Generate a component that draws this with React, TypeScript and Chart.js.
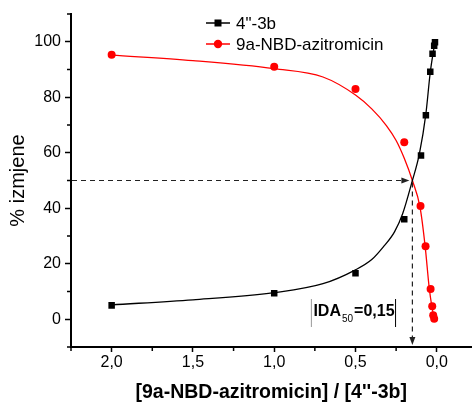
import React, { useEffect, useRef } from 'react';
import { Chart, registerables } from 'chart.js';

Chart.register(...registerables);

// measured points
const ratio4_3b = [2.0, 1.0, 0.5, 0.2, 0.097, 0.067, 0.04, 0.026, 0.016, 0.011];
const exchange4_3b = [5, 9.4, 16.6, 36, 59, 73.5, 89.2, 95.7, 98.6, 99.8];

const ratioNBD = [2.0, 1.0, 0.5, 0.2, 0.1, 0.069, 0.038, 0.028, 0.022, 0.016];
const exchangeNBD = [95.3, 91, 83, 63.8, 40.8, 26.3, 10.9, 4.7, 1.4, 0.2];

// fitted curves
const fitX4_3b = [2.0, 1.5, 1.0, 0.7, 0.5, 0.4, 0.33, 0.26, 0.21, 0.15, 0.107, 0.067, 0.04, 0.011];
const fitY4_3b = [5.2, 7.0, 9.6, 12.8, 17.8, 21.5, 26, 31.5, 38, 50, 59.6, 74, 89, 100];

const fitXNBD = [2.0, 1.5, 1.0, 0.7, 0.5, 0.4, 0.31, 0.25, 0.2, 0.15, 0.103, 0.071, 0.047, 0.03, 0.016];
const fitYNBD = [95.2, 93.2, 90.3, 87.3, 80.8, 75.8, 69.8, 64.4, 58, 50, 40.4, 26, 11.6, 4.5, 0.3];

const X_MAJOR = [2.0, 1.5, 1.0, 0.5, 0.0];
const X_MINOR = [2.25, 1.75, 1.25, 0.75, 0.25];
const Y_MAJOR = [0, 20, 40, 60, 80, 100];
const Y_MINOR = [-10, 10, 30, 50, 70, 90, 110];

const IDA50 = 0.15;
const HALF = 50;
const IDA_LABEL = 'IDA';
const IDA_SUB = '50';
const IDA_VALUE = '=0,15';

const LEGEND_LABELS = ['4"-3b', '9a-NBD-azitromicin'];
const X_TITLE = "[9a-NBD-azitromicin] / [4''-3b]";
const Y_TITLE = '% izmjene';

const FONT = '"Liberation Sans", Arial, sans-serif';

const zip = (xs: number[], ys: number[]) => xs.map((x, i) => ({ x, y: ys[i] }));

const extrasPlugin = {
  id: 'extras',
  afterDatasetsDraw(chart: any) {
    const { ctx, chartArea, scales } = chart;
    const xs = scales.x;
    const ys = scales.y;
    ctx.save();
    // minor ticks
    ctx.strokeStyle = '#000';
    ctx.lineWidth = 1.5;
    ctx.setLineDash([]);
    X_MINOR.forEach((v) => {
      const p = xs.getPixelForValue(v);
      ctx.beginPath();
      ctx.moveTo(p, chartArea.bottom);
      ctx.lineTo(p, chartArea.bottom + 4);
      ctx.stroke();
    });
    Y_MINOR.forEach((v) => {
      const p = ys.getPixelForValue(v);
      ctx.beginPath();
      ctx.moveTo(chartArea.left - 4, p);
      ctx.lineTo(chartArea.left, p);
      ctx.stroke();
    });

    // dashed guide lines
    const px = xs.getPixelForValue(IDA50);
    const py = ys.getPixelForValue(HALF);
    ctx.strokeStyle = '#222';
    ctx.fillStyle = '#222';
    ctx.lineWidth = 1.2;
    ctx.setLineDash([5, 4]);
    ctx.beginPath();
    ctx.moveTo(chartArea.left + 1, py);
    ctx.lineTo(px - 10, py);
    ctx.stroke();
    ctx.beginPath();
    ctx.moveTo(px, py + 2);
    ctx.lineTo(px, chartArea.bottom - 9);
    ctx.stroke();
    ctx.setLineDash([]);
    ctx.beginPath();
    ctx.moveTo(px - 3, py);
    ctx.lineTo(px - 11, py - 3);
    ctx.lineTo(px - 11, py + 3);
    ctx.closePath();
    ctx.fill();
    ctx.beginPath();
    ctx.moveTo(px, chartArea.bottom - 2);
    ctx.lineTo(px - 3, chartArea.bottom - 10);
    ctx.lineTo(px + 3, chartArea.bottom - 10);
    ctx.closePath();
    ctx.fill();

    // IDA50 label
    const tx = px - 101;
    const ty = chartArea.bottom - 31;
    ctx.fillStyle = '#000';
    ctx.textBaseline = 'alphabetic';
    ctx.textAlign = 'left';
    ctx.font = `bold 16px ${FONT}`;
    let cx = tx + 2;
    ctx.fillText(IDA_LABEL, cx, ty);
    cx += ctx.measureText(IDA_LABEL).width;
    ctx.font = `10px ${FONT}`;
    ctx.fillText(IDA_SUB, cx + 1, ty + 6);
    cx += ctx.measureText(IDA_SUB).width + 2;
    ctx.font = `bold 16px ${FONT}`;
    ctx.fillText(IDA_VALUE, cx, ty);
    cx += ctx.measureText(IDA_VALUE).width + 1;
    ctx.lineWidth = 1;
    ctx.strokeStyle = '#999';
    ctx.beginPath();
    ctx.moveTo(tx, ty - 17);
    ctx.lineTo(tx, ty + 11);
    ctx.stroke();
    ctx.strokeStyle = '#000';
    ctx.beginPath();
    ctx.moveTo(cx, ty - 17);
    ctx.lineTo(cx, ty + 11);
    ctx.stroke();

    // legend
    const items = [
      { ds: chart.data.datasets[0], shape: 'rect' },
      { ds: chart.data.datasets[1], shape: 'circle' },
    ];
    items.forEach((it, i) => {
      const ly = chartArea.top + 9 + i * 21;
      const lx = chartArea.left + 135;
      const color = it.ds.borderColor;
      ctx.strokeStyle = color;
      ctx.fillStyle = color;
      ctx.lineWidth = 1.5;
      ctx.beginPath();
      ctx.moveTo(lx, ly);
      ctx.lineTo(lx + 24, ly);
      ctx.stroke();
      if (it.shape === 'rect') {
        ctx.fillRect(lx + 12 - 3.5, ly - 3.5, 7, 7);
      } else {
        ctx.beginPath();
        ctx.arc(lx + 12, ly, 4.2, 0, Math.PI * 2);
        ctx.fill();
      }
      ctx.fillStyle = '#000';
      ctx.font = `17px ${FONT}`;
      ctx.textBaseline = 'middle';
      ctx.fillText(it.ds.label, lx + 30, ly + 1);
    });
    ctx.restore();
  },
};

export default function App() {
  const ref = useRef<HTMLCanvasElement | null>(null);
  useEffect(() => {
    if (!ref.current) return;
    const chart = new Chart(ref.current, {
      type: 'scatter',
      data: {
        datasets: [
          {
            label: LEGEND_LABELS[0],
            data: zip(ratio4_3b, exchange4_3b),
            borderColor: '#000',
            backgroundColor: '#000',
            pointStyle: 'rect',
            pointRadius: 4.6,
            pointBorderWidth: 0,
            showLine: false,
          },
          {
            label: LEGEND_LABELS[1],
            data: zip(ratioNBD, exchangeNBD),
            borderColor: '#ff0000',
            backgroundColor: '#ff0000',
            pointStyle: 'circle',
            pointRadius: 4,
            pointBorderWidth: 0,
            showLine: false,
          },
          {
            label: 'fit 4"-3b',
            data: zip(fitX4_3b, fitY4_3b),
            borderColor: '#000',
            borderWidth: 1.3,
            pointRadius: 0,
            showLine: true,
            cubicInterpolationMode: 'monotone',
          },
          {
            label: 'fit NBD',
            data: zip(fitXNBD, fitYNBD),
            borderColor: '#ff0000',
            borderWidth: 1.3,
            pointRadius: 0,
            showLine: true,
            cubicInterpolationMode: 'monotone',
          },
        ],
      },
      options: {
        responsive: false,
        animation: false,
        layout: { padding: { top: 14, right: 0, left: 0, bottom: 0 } },
        plugins: { legend: { display: false }, tooltip: { enabled: false } },
        scales: {
          x: {
            type: 'linear',
            reverse: true,
            min: -0.213,
            max: 2.25,
            afterBuildTicks: (s: any) => {
              s.ticks = X_MAJOR.map((v) => ({ value: v }));
            },
            afterFit: (s: any) => {
              s.height = 58;
            },
            border: { color: '#000', width: 2 },
            grid: { drawOnChartArea: false, drawTicks: true, tickLength: 5, tickColor: '#000', tickWidth: 1.5 },
            ticks: {
              color: '#000',
              padding: 1,
              font: { family: FONT, size: 16 },
              maxRotation: 0,
              callback: (v: any) => Number(v).toFixed(1).replace('.', ','),
            },
            title: {
              display: true,
              text: X_TITLE,
              color: '#000',
              font: { family: FONT, size: 19.5, weight: 'bold', lineHeight: 1 },
              padding: { top: 0, bottom: 3 },
            },
          },
          y: {
            type: 'linear',
            min: -10,
            max: 110,
            afterBuildTicks: (s: any) => {
              s.ticks = Y_MAJOR.map((v) => ({ value: v }));
            },
            afterFit: (s: any) => {
              s.width = 71;
            },
            border: { color: '#000', width: 2 },
            grid: { drawOnChartArea: false, drawTicks: true, tickLength: 6, tickColor: '#000', tickWidth: 1.5 },
            ticks: {
              color: '#000',
              padding: 4,
              font: { family: FONT, size: 16 },
              callback: (v: any) => String(v),
            },
            title: {
              display: true,
              text: Y_TITLE,
              color: '#000',
              font: { family: FONT, size: 20, lineHeight: 1 },
              padding: { top: 8, bottom: 0 },
            },
          },
        },
      },
      plugins: [extrasPlugin],
    } as any);
    return () => chart.destroy();
  }, []);
  return (
    <div style={{ position: 'absolute', left: 0, top: 0, width: 476, height: 405, background: '#fff' }}>
      <canvas ref={ref} width={476} height={405} style={{ display: 'block' }} />
    </div>
  );
}
